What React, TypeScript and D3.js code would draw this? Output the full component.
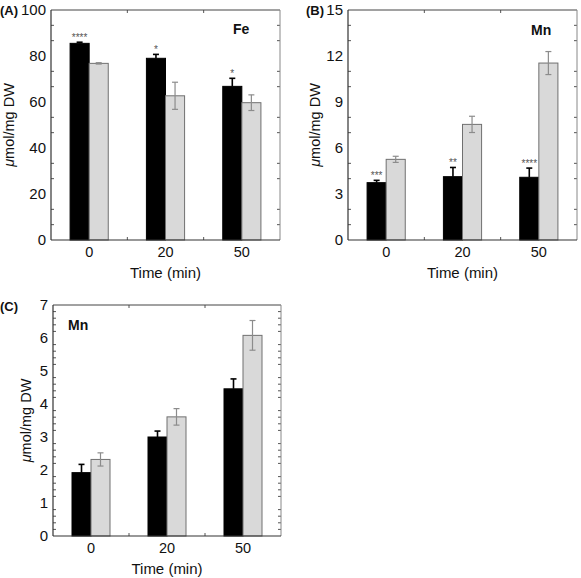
import React from "react";
import * as d3 from "d3";

const categories = ["0", "20", "50"];

// Panel A: Fe
const feBlack = [85.5, 79.0, 66.8];
const feBlackErr = [0.5, 1.7, 3.5];
const feGray = [76.8, 62.7, 59.7];
const feGrayErr = [0.3, 5.9, 3.4];
const feSig = ["****", "*", "*"];
const feTicks = [0, 20, 40, 60, 80, 100];

// Panel B: Mn
const mnBBlack = [3.74, 4.13, 4.09];
const mnBBlackErr = [0.15, 0.6, 0.6];
const mnBGray = [5.26, 7.54, 11.54];
const mnBGrayErr = [0.2, 0.53, 0.75];
const mnBSig = ["***", "**", "****"];
const mnBTicks = [0, 3, 6, 9, 12, 15];

// Panel C: Mn
const mnCBlack = [1.92, 3.0, 4.46];
const mnCBlackErr = [0.25, 0.18, 0.3];
const mnCGray = [2.32, 3.61, 6.08];
const mnCGrayErr = [0.2, 0.25, 0.45];
const mnCSig = ["", "", ""];
const mnCTicks = [0, 1, 2, 3, 4, 5, 6, 7];

const FONT = "'Liberation Sans', Arial, sans-serif";

type PanelProps = {
  left: number; right: number; top: number; bottom: number;
  max: number; ticks: number[]; minorStep: number;
  black: number[]; blackErr: number[]; gray: number[]; grayErr: number[];
  sig: string[]; letter: string; letterX: number; letterY: number;
  element: string; elX: number; elY: number; yLabelX: number;
};

function Panel(p: PanelProps) {
  const x = d3.scaleBand<string>().domain(categories).range([p.left, p.right]).paddingInner(0.5).paddingOuter(0.25);
  const sub = d3.scaleBand<string>().domain(["b", "g"]).range([0, x.bandwidth()]).padding(0);
  const y = d3.scaleLinear().domain([0, p.max]).range([p.bottom, p.top]);
  const step = x.step();
  const minors = d3.range(0, p.max + 1e-9, p.minorStep).filter(v => !p.ticks.some(t => Math.abs(t - v) < 1e-6));
  const bw = sub.bandwidth();
  const cap = 3;
  return (
    <g>
      {categories.map((c, i) => {
        const x0 = x(c)!;
        const bx = x0 + sub("b")!;
        const gx = x0 + sub("g")!;
        const bTop = y(p.black[i] + p.blackErr[i]);
        const bc = bx + bw / 2;
        const gc = gx + bw / 2;
        return (
          <g key={c}>
            <rect x={bx} y={y(p.black[i])} width={bw} height={y(0) - y(p.black[i])} fill="#000" stroke="#000" strokeWidth={1} />
            <rect x={gx} y={y(p.gray[i])} width={bw} height={y(0) - y(p.gray[i])} fill="#d9d9d9" stroke="#707070" strokeWidth={1} />
            <line x1={bc} x2={bc} y1={y(p.black[i])} y2={bTop} stroke="#000" strokeWidth={1.6} />
            <line x1={bc - cap} x2={bc + cap} y1={bTop} y2={bTop} stroke="#000" strokeWidth={1.6} />
            <line x1={gc} x2={gc} y1={y(p.gray[i] - p.grayErr[i])} y2={y(p.gray[i] + p.grayErr[i])} stroke="#8c8c8c" strokeWidth={1.2} />
            <line x1={gc - cap} x2={gc + cap} y1={y(p.gray[i] + p.grayErr[i])} y2={y(p.gray[i] + p.grayErr[i])} stroke="#8c8c8c" strokeWidth={1.2} />
            <line x1={gc - cap} x2={gc + cap} y1={y(p.gray[i] - p.grayErr[i])} y2={y(p.gray[i] - p.grayErr[i])} stroke="#8c8c8c" strokeWidth={1.2} />
            {p.sig[i] && (
              <text x={bc} y={bTop - 1} textAnchor="middle" fontSize={10} fill="#555" fontFamily={FONT}>{p.sig[i]}</text>
            )}
            <text x={x0 + x.bandwidth() / 2} y={p.bottom + 17} textAnchor="middle" fontSize={14.5} fontFamily={FONT} fill="#111">{c}</text>
          </g>
        );
      })}
      {minors.map(v => (
        <g key={"m" + v}>
          <line x1={p.left} x2={p.left + 3} y1={y(v)} y2={y(v)} stroke="#555" strokeWidth={1} />
          <line x1={p.right} x2={p.right - 3} y1={y(v)} y2={y(v)} stroke="#555" strokeWidth={1} />
        </g>
      ))}
      {[1, 2].map(k => (
        <g key={"xt" + k}>
          <line x1={p.left + step * k} x2={p.left + step * k} y1={p.bottom} y2={p.bottom - 3} stroke="#555" />
          <line x1={p.left + step * k} x2={p.left + step * k} y1={p.top} y2={p.top + 3} stroke="#555" />
        </g>
      ))}
      <line x1={p.left} x2={p.right} y1={p.top} y2={p.top} stroke="#444" strokeWidth={1} />
      <line x1={p.right} x2={p.right} y1={p.top} y2={p.bottom} stroke="#888" strokeWidth={1} />
      <line x1={p.left} x2={p.right} y1={p.bottom} y2={p.bottom} stroke="#333" strokeWidth={1.2} />
      <line x1={p.left} x2={p.left} y1={p.top} y2={p.bottom} stroke="#333" strokeWidth={1.2} />
      {p.ticks.map(t => (
        <text key={"t" + t} x={p.left - 5} y={y(t)} dy="0.35em" textAnchor="end" fontSize={15} fontFamily={FONT} fill="#111">{t}</text>
      ))}
      <text x={(p.left + p.right) / 2} y={p.bottom + 38} textAnchor="middle" fontSize={15} fontFamily={FONT} fill="#111">Time (min)</text>
      <text transform={`translate(${p.yLabelX},${(p.top + p.bottom) / 2}) rotate(-90)`} textAnchor="middle" fontSize={14.5} fontFamily={FONT} fill="#111">
        <tspan fontStyle="italic">μ</tspan>mol/mg DW
      </text>
      <text x={p.letterX} y={p.letterY} fontSize={13} fontWeight="bold" fontFamily={FONT} fill="#111">{p.letter}</text>
      <text x={p.elX} y={p.elY} dy="0.35em" fontSize={14} fontWeight="bold" fontFamily={FONT} fill="#111">{p.element}</text>
    </g>
  );
}

export default function App() {
  return (
    <svg width={581} height={578} style={{ position: "absolute", left: 0, top: 0, background: "#fff" }}>
      <Panel left={51} right={280} top={10} bottom={240} max={100} ticks={feTicks} minorStep={20 / 3}
        black={feBlack} blackErr={feBlackErr} gray={feGray} grayErr={feGrayErr} sig={feSig}
        letter="(A)" letterX={0} letterY={15} element="Fe" elX={233} elY={29} yLabelX={14} />
      <Panel left={348} right={577} top={10} bottom={240} max={15} ticks={mnBTicks} minorStep={1}
        black={mnBBlack} blackErr={mnBBlackErr} gray={mnBGray} grayErr={mnBGrayErr} sig={mnBSig}
        letter="(B)" letterX={306} letterY={15} element="Mn" elX={531} elY={30} yLabelX={320} />
      <Panel left={53} right={281} top={305} bottom={536} max={7} ticks={mnCTicks} minorStep={0.2}
        black={mnCBlack} blackErr={mnCBlackErr} gray={mnCGray} grayErr={mnCGrayErr} sig={mnCSig}
        letter="(C)" letterX={0} letterY={311} element="Mn" elX={68} elY={325} yLabelX={31} />
    </svg>
  );
}
